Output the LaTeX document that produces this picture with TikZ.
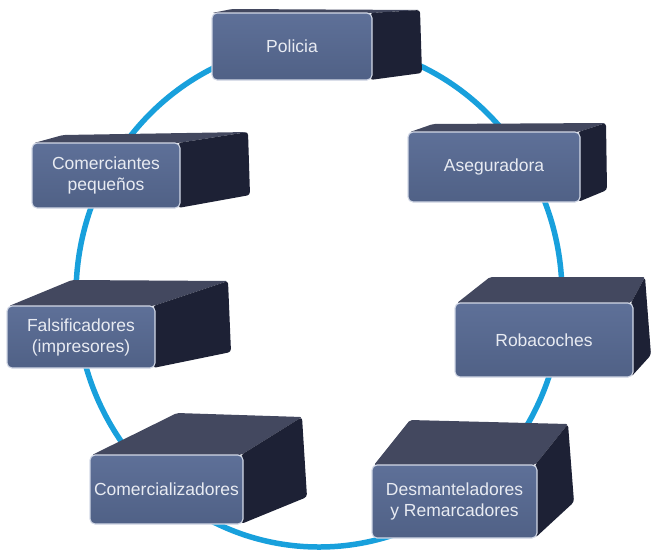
\documentclass[tikz,border=0pt]{standalone}
\usepackage{fontspec}
\setmainfont{Liberation Sans}
\definecolor{ringblue}{HTML}{18A0DC}
\definecolor{frontt}{HTML}{5E7098}
\definecolor{frontb}{HTML}{506186}
\definecolor{edgec}{HTML}{D2D8E6}
\definecolor{topc}{HTML}{43485F}
\definecolor{sidec}{HTML}{1D2135}
\definecolor{textc}{HTML}{E8EBF2}
\pgfdeclarelayer{ringlayer}
\pgfdeclarelayer{sidelayer}
\pgfsetlayers{ringlayer,sidelayer,main}
\tikzset{
  front/.style={draw=edgec, line width=1.1pt, rounded corners=5pt,
    top color=frontt, bottom color=frontb, text=textc, align=center,
    font=\fontsize{17.5}{21}\selectfont, inner sep=0pt},
  topface/.style={fill=topc, rounded corners=2pt},
  sideface/.style={fill=sidec, rounded corners=3pt},
  ring/.style={draw=ringblue, line width=5.5pt}
}
\begin{document}
\begin{tikzpicture}[x=1pt,y=-1pt]
\useasboundingbox (0,0) rectangle (652,552);
\begin{pgfonlayer}{ringlayer}
\draw[ring] (319,295) ellipse [x radius=243, y radius=252];
\end{pgfonlayer}

% Policia
\node[front, minimum width=160pt, minimum height=67pt] (pol) at (292,46.5) {Policia};
\begin{pgfonlayer}{sidelayer}
\fill[topface] (212,13) -- (232,9) -- (420,10) -- (372,13) -- cycle;
\fill[sideface] (370,13) -- (420,10) -- (422,73) -- (370,80) -- cycle;
\end{pgfonlayer}

% Aseguradora
\node[front, minimum width=172pt, minimum height=70pt] (ase) at (494,167) {Aseguradora};
\begin{pgfonlayer}{sidelayer}
\fill[topface] (410,132) -- (433,124) -- (606,123) -- (578,132) -- cycle;
\fill[sideface] (578,132) -- (606,123) -- (607,190) -- (578,202) -- cycle;
\end{pgfonlayer}

% Comerciantes
\node[front, minimum width=148pt, minimum height=65pt] (com) at (106,175.5) {Comerciantes\\pequeños};
\begin{pgfonlayer}{sidelayer}
\fill[topface] (34,143) -- (63,135) -- (248,132) -- (178,143) -- cycle;
\fill[sideface] (178,143) -- (248,132) -- (250,195) -- (178,208) -- cycle;
\end{pgfonlayer}

% Falsificadores
\node[front, minimum width=148pt, minimum height=62pt] (fal) at (81,337) {Falsificadores\\(impresores)};
\begin{pgfonlayer}{sidelayer}
\fill[topface] (9,306) -- (72,280) -- (228,281) -- (153,306) -- cycle;
\fill[sideface] (153,306) -- (228,281) -- (231,352) -- (153,368) -- cycle;
\end{pgfonlayer}

% Robacoches
\node[front, minimum width=178pt, minimum height=74pt] (rob) at (544,340) {Robacoches};
\begin{pgfonlayer}{sidelayer}
\fill[topface] (457,303) -- (490,277) -- (645,277) -- (631,303) -- cycle;
\fill[sideface] (631,303) -- (645,277) -- (651,355) -- (631,377) -- cycle;
\end{pgfonlayer}

% Comercializadores
\node[front, minimum width=153pt, minimum height=69pt] (cmz) at (166.5,489.5) {Comercializadores};
\begin{pgfonlayer}{sidelayer}
\fill[topface] (92,455) -- (177,413) -- (302,417) -- (241,455) -- cycle;
\fill[sideface] (241,455) -- (302,417) -- (307,497) -- (241,524) -- cycle;
\end{pgfonlayer}

% Desmanteladores
\node[front, minimum width=165pt, minimum height=73pt] (des) at (454.5,501.5) {Desmanteladores\\y Remarcadores};
\begin{pgfonlayer}{sidelayer}
\fill[topface] (374,465) -- (410,420) -- (568,424) -- (535,465) -- cycle;
\fill[sideface] (535,465) -- (568,424) -- (574,502) -- (535,538) -- cycle;
\end{pgfonlayer}
\end{tikzpicture}
\end{document}
